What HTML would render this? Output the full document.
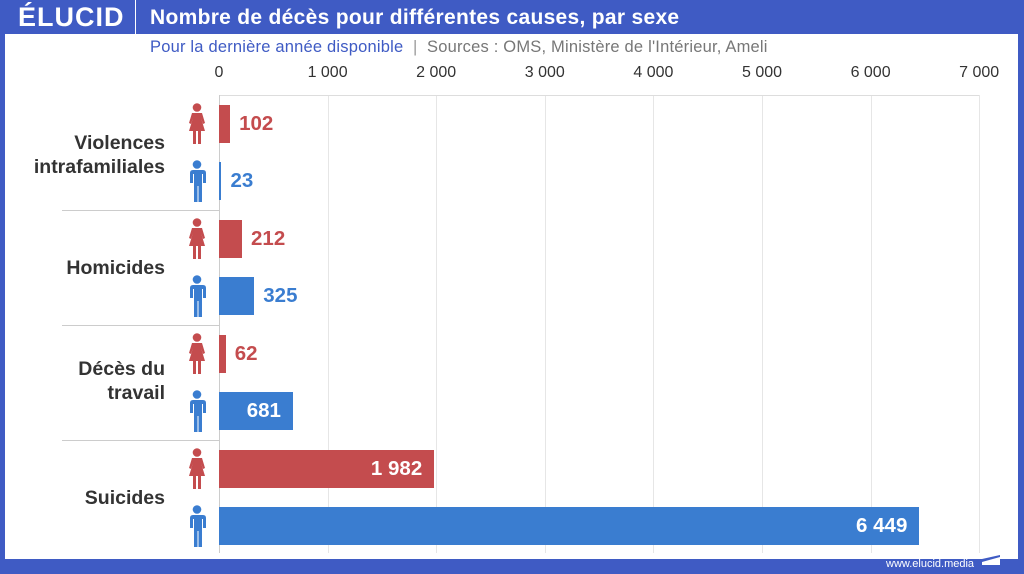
<!DOCTYPE html>
<html><head><meta charset="utf-8"><style>
body{margin:0;width:1024px;height:574px;overflow:hidden;background:#3f5bc4;font-family:"Liberation Sans",sans-serif;position:relative}
.main{position:absolute;left:5px;top:34px;width:1013px;height:525px;background:#fff}
.t{position:absolute;white-space:nowrap}
.cat{position:absolute;right:859px;text-align:right;font-weight:bold;font-size:19.5px;color:#333;line-height:24px}
.grid{position:absolute;top:95px;height:458px;width:1px;background:#e6e6e6}
.bar{position:absolute;height:38px}
.r{background:#c44c4e}.b{background:#3a7dd0}
.v{position:absolute;font-size:20.5px;font-weight:bold;line-height:38px}
.ic{position:absolute;left:186px}
</style></head><body>
<div class="main"></div>
<div class="t" style="left:18px;top:2px;font-size:27px;font-weight:bold;color:#fff;letter-spacing:1px">ÉLUCID</div>
<div style="position:absolute;left:135px;top:0;width:1px;height:34px;background:#fff"></div>
<div class="t" style="left:150px;top:6px;font-size:21px;font-weight:bold;color:#fff;letter-spacing:0.3px">Nombre de décès pour différentes causes, par sexe</div>
<div class="t" style="left:150px;top:38px;font-size:16.5px;color:#3f5bc4;letter-spacing:0.2px">Pour la dernière année disponible <span style="color:#999">&nbsp;|&nbsp; </span><span style="color:#777">Sources : OMS, Ministère de l'Intérieur, Ameli</span></div>
<div id="ticks"></div>
<div style="position:absolute;left:219px;top:95px;width:760px;height:1px;background:#ddd"></div>
<div style="position:absolute;left:219px;top:95px;width:1px;height:458px;background:#ccc"></div>
<div style="position:absolute;left:62px;top:210px;width:157px;height:1px;background:#ccc"></div>
<div style="position:absolute;left:62px;top:325px;width:157px;height:1px;background:#ccc"></div>
<div style="position:absolute;left:62px;top:440px;width:157px;height:1px;background:#ccc"></div>
<div class="cat" style="top:131px">Violences<br>intrafamiliales</div>
<div class="cat" style="top:256px">Homicides</div>
<div class="cat" style="top:357px">Décès du<br>travail</div>
<div class="cat" style="top:486px">Suicides</div>
<div id="bars"></div>
<div class="t" style="left:886px;top:558px;font-size:11px;color:#fff">www.elucid.media</div>
<svg style="position:absolute;left:982px;top:551px" width="20" height="18"><polygon points="0,8 18,0 18,14 0,14" fill="#fff"/><polygon points="0,8 18,4 18,6 0,11" fill="#3f5bc4"/></svg>
<script>
var t=document.getElementById('ticks'),h='';
var labs=['0','1 000','2 000','3 000','4 000','5 000','6 000','7 000'];
for(var i=0;i<8;i++){var x=219+i*108.6;
h+='<div class="t" style="left:'+(x-40)+'px;width:80px;text-align:center;top:64px;font-size:16px;color:#333">'+labs[i]+'</div>';
if(i>0)h+='<div class="grid" style="left:'+Math.round(x)+'px"></div>';}
t.innerHTML=h;
var fem='<svg width="22" height="42" viewBox="0 0 22 42"><circle cx="11" cy="4.5" r="4.3" fill="#c44c4e"/><path d="M6 10h10l3 10-2 1-2-6 4 13h-4v13h-3v-13h-2v13h-3v-13h-4l4-13-2 6-2-1z" fill="#c44c4e"/></svg>';
var mal='<svg width="22" height="42" viewBox="0 0 22 42"><circle cx="11" cy="4.5" r="4.3" fill="#3a7dd0"/><path d="M5 10h12q3 0 3 3v10h-3v-9h-1v28h-3.5v-16h-1v16h-3.5v-28h-1v9h-3v-10q0-3 3-3z" fill="#3a7dd0"/></svg>';
var d=[[102,105,'r'],[23,162,'b'],[212,220,'r'],[325,277,'b'],[62,335,'r'],[681,392,'b'],[1982,450,'r'],[6449,507,'b']];
var labsv=['102','23','212','325','62','681','1 982','6 449'];
h='';
for(var k=0;k<d.length;k++){var w=Math.max(2,d[k][0]*0.1086),y=d[k][1],c=d[k][2];
h+='<div class="bar '+c+'" style="left:219px;top:'+y+'px;width:'+w+'px"></div>';
h+='<div class="ic" style="top:'+(y-2)+'px">'+(c=='r'?fem:mal)+'</div>';
var col=c=='r'?'#c44c4e':'#3a7dd0';
if(w>60)h+='<div class="v" style="left:219px;width:'+(w-12)+'px;text-align:right;top:'+y+'px;color:#fff">'+labsv[k]+'</div>';
else h+='<div class="v" style="left:'+(219+w+9)+'px;top:'+y+'px;color:'+col+'">'+labsv[k]+'</div>';}
document.getElementById('bars').innerHTML=h;
</script>
</body></html>
